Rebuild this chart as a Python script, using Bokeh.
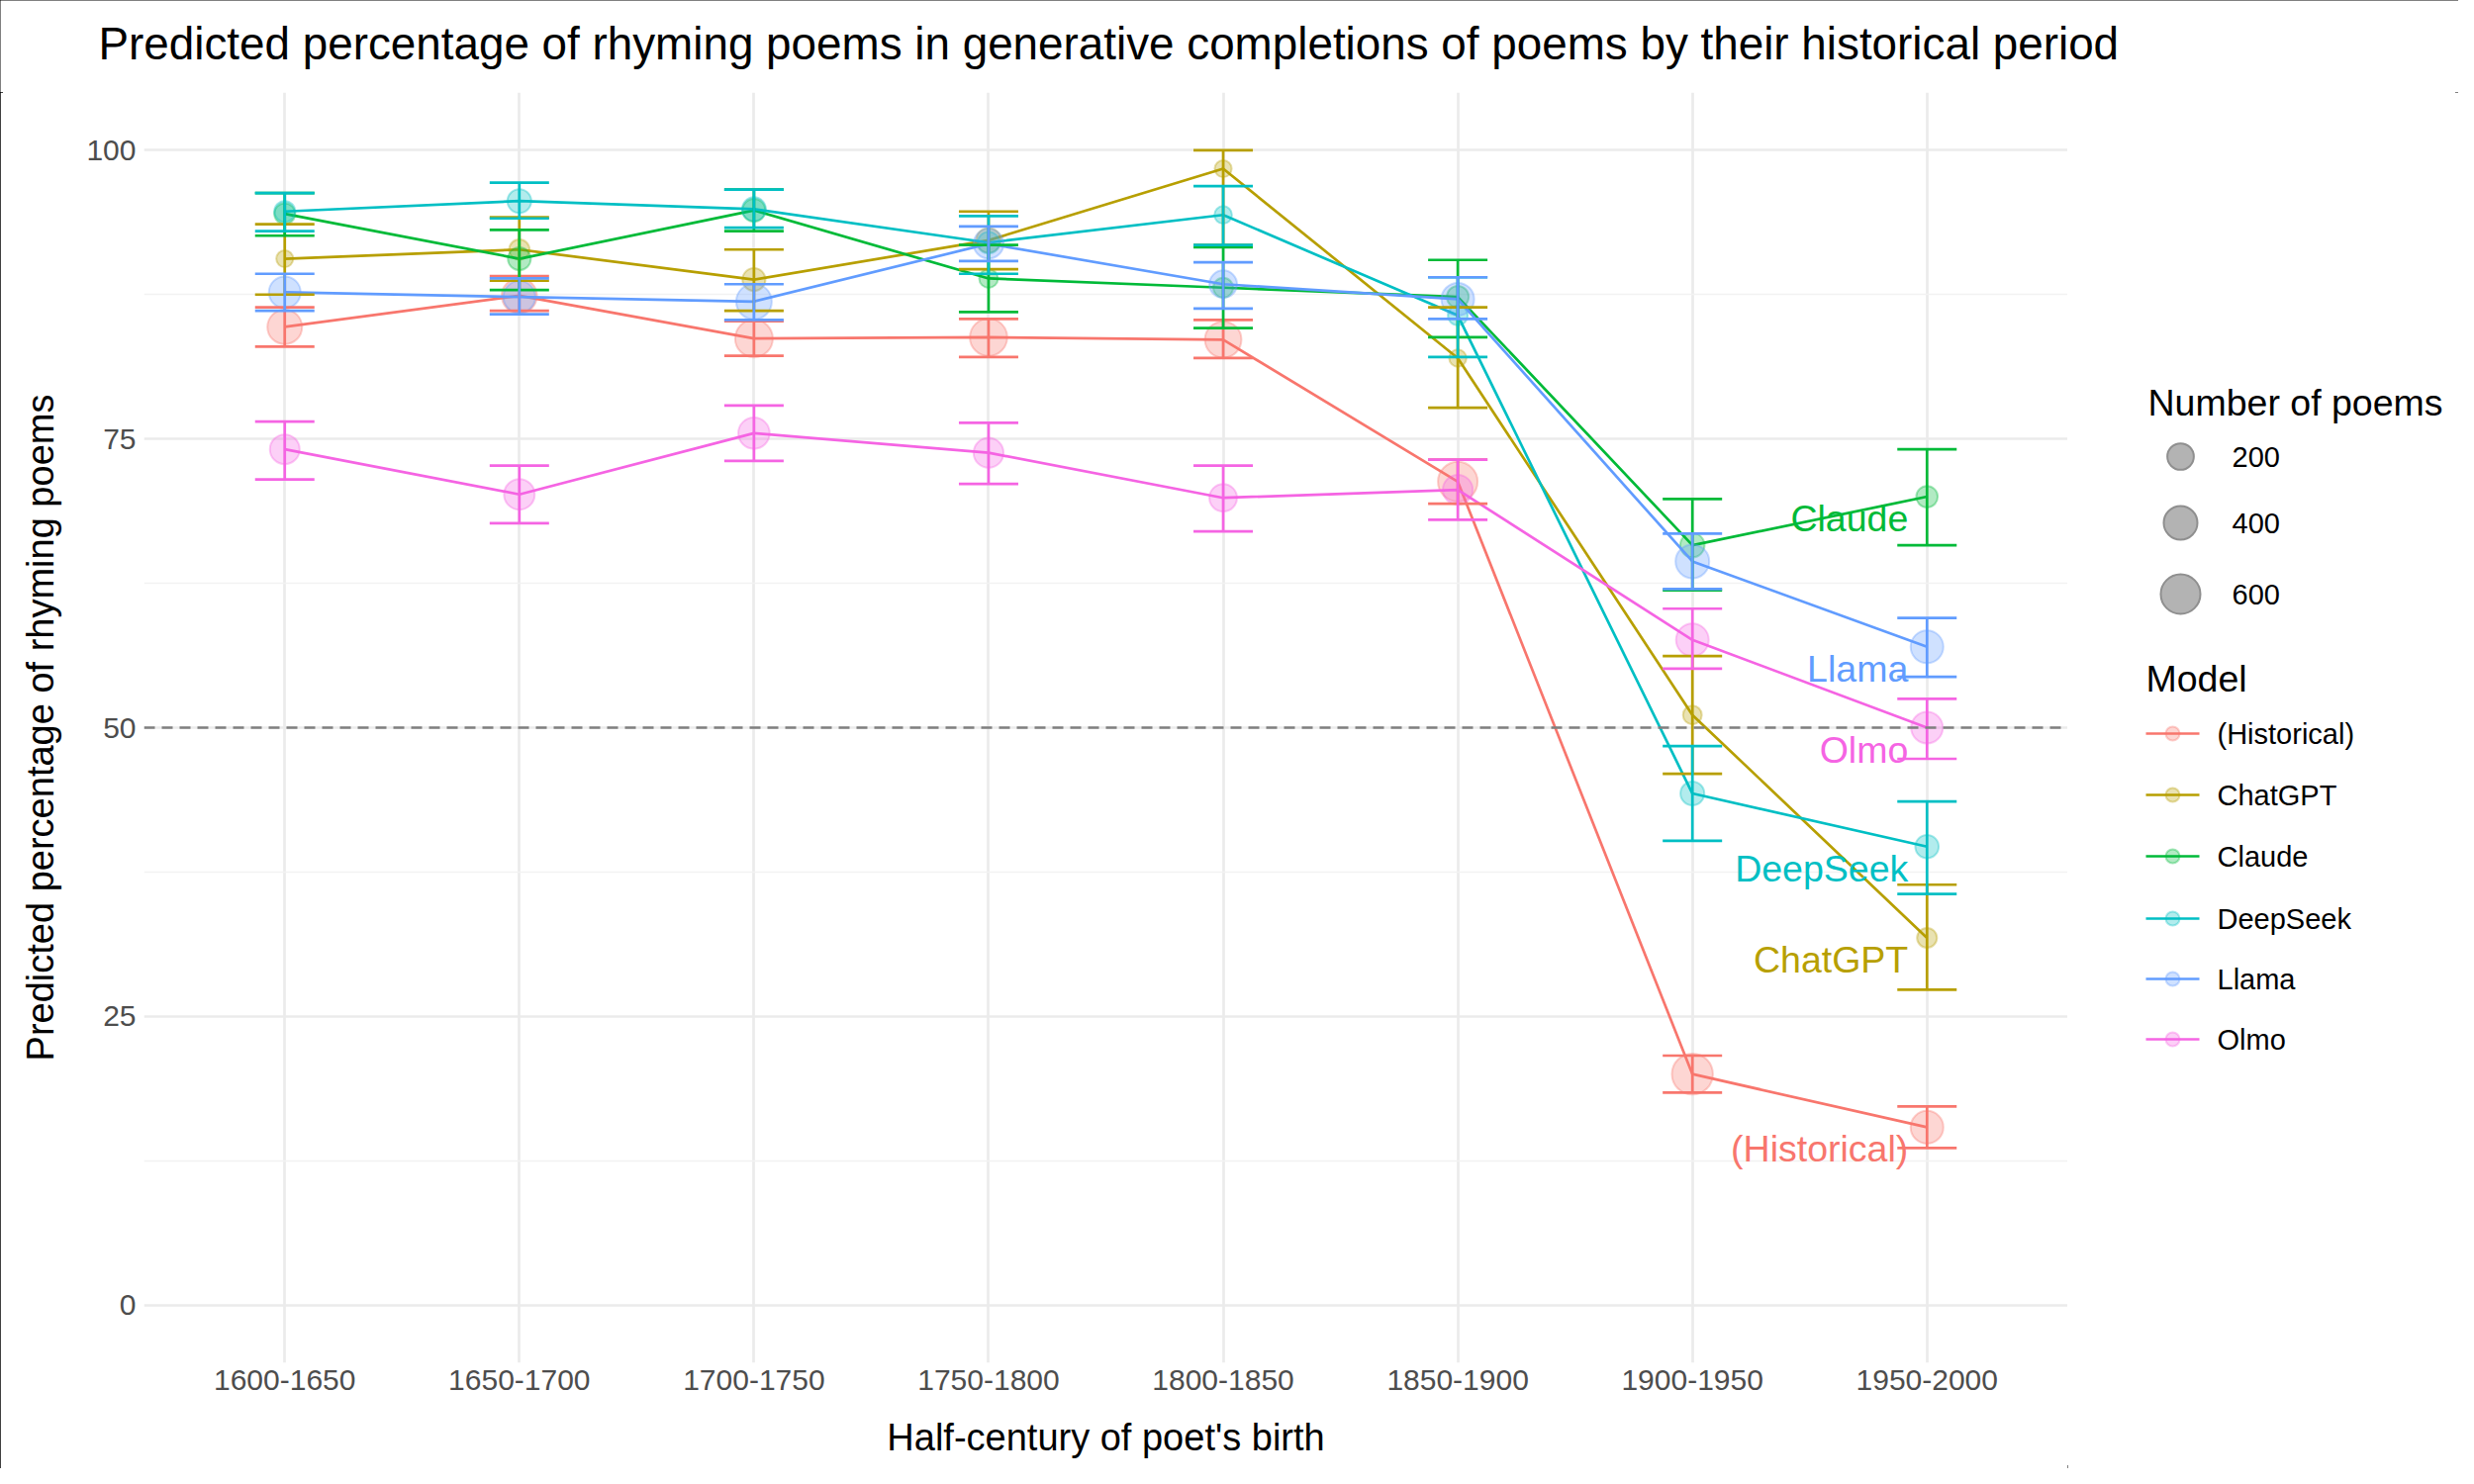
import math
from bokeh.plotting import figure
from bokeh.layouts import row, column
from bokeh.models import (FactorRange, Range1d, FixedTicker, Whisker, TeeHead,
                          ColumnDataSource, Span)
from bokeh.core.properties import value
from bokeh.embed import file_html
from bokeh.resources import INLINE

FONT = "Liberation Sans"

periods = ["1600-1650", "1650-1700", "1700-1750", "1750-1800",
           "1800-1850", "1850-1900", "1900-1950", "1950-2000"]
models = ["(Historical)", "ChatGPT", "Claude", "DeepSeek", "Llama", "Olmo"]
colors = ["#F8766D", "#B79F00", "#00BA38", "#00BFC4", "#619CFF", "#F564E3"]

historical_pct = [84.7, 87.4, 83.7, 83.8, 83.6, 71.3, 20.0, 15.4]
historical_lo = [83.0, 86.1, 82.2, 82.1, 82.0, 69.4, 18.4, 13.6]
historical_hi = [86.4, 89.1, 85.2, 85.4, 85.3, 73.2, 21.6, 17.2]
historical_n = [430, 450, 530, 520, 490, 600, 650, 370]

chatgpt_pct = [90.6, 91.4, 88.8, 92.2, 98.4, 82.0, 51.1, 31.8]
chatgpt_lo = [87.5, 88.7, 86.1, 89.7, 91.8, 77.7, 46.0, 27.3]
chatgpt_hi = [93.6, 94.2, 91.4, 94.7, 100.0, 86.4, 56.2, 36.4]
chatgpt_n = [10, 70, 120, 160, 10, 15, 40, 60]

claude_pct = [94.5, 90.6, 94.8, 88.9, 88.1, 87.3, 65.8, 70.0]
claude_lo = [92.6, 87.9, 93.0, 86.0, 84.6, 83.8, 61.9, 65.8]
claude_hi = [96.3, 93.1, 96.6, 91.8, 91.6, 90.5, 69.8, 74.1]
claude_n = [80, 120, 120, 40, 60, 100, 150, 90]

deepseek_pct = [94.7, 95.6, 94.9, 92.0, 94.4, 85.7, 44.3, 39.7]
deepseek_lo = [93.0, 94.1, 93.3, 89.3, 91.8, 82.1, 40.2, 35.6]
deepseek_hi = [96.3, 97.2, 96.6, 94.3, 96.9, 89.0, 48.4, 43.6]
deepseek_n = [80, 140, 140, 100, 20, 60, 140, 130]

llama_pct = [87.7, 87.3, 86.9, 91.9, 88.4, 87.1, 64.4, 57.0]
llama_lo = [86.1, 85.8, 85.3, 90.4, 86.3, 85.4, 62.0, 54.4]
llama_hi = [89.3, 88.9, 88.4, 93.4, 90.3, 89.0, 66.8, 59.5]
llama_n = [340, 350, 460, 290, 230, 370, 400, 370]

olmo_pct = [74.1, 70.2, 75.5, 73.8, 69.9, 70.6, 57.6, 50.0]
olmo_lo = [71.5, 67.7, 73.1, 71.1, 67.0, 68.0, 55.1, 47.3]
olmo_hi = [76.5, 72.7, 77.9, 76.4, 72.7, 73.2, 60.3, 52.5]
olmo_n = [284, 310, 330, 290, 230, 290, 370, 340]

size_breaks = [200, 400, 600]
y_ticks = [0, 25, 50, 75, 100]
y_minor = [12.5, 37.5, 62.5, 87.5]

TITLE = "Predicted percentage of rhyming poems in generative completions of poems by their historical period"
X_TITLE = "Half-century of poet's birth"
Y_TITLE = "Predicted percentage of rhyming poems"

series = [
    (historical_pct, historical_lo, historical_hi, historical_n),
    (chatgpt_pct, chatgpt_lo, chatgpt_hi, chatgpt_n),
    (claude_pct, claude_lo, claude_hi, claude_n),
    (deepseek_pct, deepseek_lo, deepseek_hi, deepseek_n),
    (llama_pct, llama_lo, llama_hi, llama_n),
    (olmo_pct, olmo_lo, olmo_hi, olmo_n),
]


def diam(n):
    # area-proportional size scale (px diameter)
    return math.sqrt(270 + 2.218 * n)


# ---- layout (pixels) ----
TOTAL_W, TOTAL_H = 2484, 1484
FL, FT, FW, FH = 145, 93, 1944, 1284
MAIN_W = FL + FW
LEG_W = TOTAL_W - MAIN_W
BODY_H = TOTAL_H - FT

# ---- title strip ----
tf = figure(width=TOTAL_W, height=FT, frame_width=TOTAL_W, frame_height=FT,
            x_range=Range1d(0, TOTAL_W), y_range=Range1d(FT, 0), min_border=0,
            x_axis_location=None, y_axis_location=None,
            output_backend="svg", toolbar_location=None)
tf.outline_line_color = None
tf.grid.visible = False
tf.text(x=[99], y=[43.5], text=[TITLE], text_align="left", text_baseline="middle",
        text_color="black", text_font=value(FONT), text_font_size="45.8px")

# ---- main plot ----
p = figure(
    x_range=FactorRange(factors=periods, range_padding=0.1, range_padding_units="absolute"),
    y_range=Range1d(-5, 105),
    frame_width=FW, frame_height=FH,
    min_border_left=FL, min_border_right=0, min_border_top=0,
    min_border_bottom=BODY_H - FH,
    output_backend="svg", toolbar_location=None,
)
p.outline_line_color = None
p.background_fill_color = "white"

ticker = FixedTicker(ticks=y_ticks, minor_ticks=y_minor)
p.yaxis.ticker = ticker
p.ygrid.ticker = ticker
for ax in (p.xaxis, p.yaxis):
    ax.axis_line_color = None
    ax.major_tick_line_color = None
    ax.minor_tick_line_color = None
    ax.major_tick_out = 0
    ax.minor_tick_out = 0
    ax.major_label_text_font = FONT
    ax.major_label_text_font_size = "30px"
    ax.major_label_text_color = "#4D4D4D"
    ax.axis_label_text_font = FONT
    ax.axis_label_text_font_size = "38px"
    ax.axis_label_text_font_style = "normal"
    ax.axis_label_text_color = "black"
p.xaxis.axis_label = X_TITLE
p.yaxis.axis_label = Y_TITLE
p.xaxis.major_label_standoff = 7
p.xaxis.axis_label_standoff = 24
p.yaxis.major_label_standoff = 8
p.yaxis.axis_label_standoff = 22

p.xgrid.grid_line_color = "#EBEBEB"
p.xgrid.grid_line_width = 2.7
p.ygrid.grid_line_color = "#EBEBEB"
p.ygrid.grid_line_width = 2.7
p.ygrid.minor_grid_line_color = "#F2F2F2"
p.ygrid.minor_grid_line_width = 1.4

p.add_layout(Span(location=50, dimension="width", line_color="#7F7F7F",
                  line_dash="11 7", line_width=2.5))

for name, col, (pct, lo, hi, n) in zip(models, colors, series):
    src = ColumnDataSource(dict(x=periods, y=pct, lo=lo, hi=hi,
                                size=[diam(v) for v in n]))
    w = Whisker(base="x", upper="hi", lower="lo", source=src, dimension="height",
                line_color=col, line_width=2.7, level="glyph",
                upper_head=TeeHead(size=60, line_color=col, line_width=2.7),
                lower_head=TeeHead(size=60, line_color=col, line_width=2.7))
    p.add_layout(w)
    p.line(x="x", y="y", source=src, line_color=col, line_width=2.7)
    p.scatter(x="x", y="y", size="size", source=src, fill_color=col, fill_alpha=0.3,
              line_color=col, line_alpha=0.35, line_width=2)
    p.text(x=[periods[-1]], y=[pct[-1]], text=[name], x_offset=-19, y_offset=22,
           text_align="right", text_baseline="middle", text_color=col,
           text_font=value(FONT), text_font_size="37.5px")

# ---- legend panel (y measured from the top of the whole picture) ----
lf = figure(width=LEG_W, height=BODY_H, frame_width=LEG_W, frame_height=BODY_H,
            x_range=Range1d(0, LEG_W), y_range=Range1d(TOTAL_H, FT), min_border=0,
            x_axis_location=None, y_axis_location=None,
            output_backend="svg", toolbar_location=None)
lf.outline_line_color = None
lf.grid.visible = False

# size legend
SIZE_TITLE_X, SIZE_TITLE_Y = 81, 406.5
SIZE_KEY_X, SIZE_LABEL_X = 114, 166
size_rows = [461, 528, 600]
lf.text(x=[SIZE_TITLE_X], y=[SIZE_TITLE_Y], text=["Number of poems"], text_align="left",
        text_baseline="middle", text_color="black", text_font=value(FONT),
        text_font_size="37.5px")
lf.scatter(x=[SIZE_KEY_X] * len(size_breaks), y=size_rows,
           size=[diam(b) for b in size_breaks], fill_color="#B3B3B3",
           line_color="#8F8F8F", line_width=2)
lf.text(x=[SIZE_LABEL_X] * len(size_breaks), y=size_rows, text=[str(b) for b in size_breaks],
        text_align="left", text_baseline="middle", text_color="black",
        text_font=value(FONT), text_font_size="29px")

# model legend
MODEL_TITLE_X, MODEL_TITLE_Y = 79, 685
KEY_X0, KEY_X1, LABEL_X = 79, 133, 151
model_rows = [741, 803, 865, 928, 989, 1050]
lf.text(x=[MODEL_TITLE_X], y=[MODEL_TITLE_Y], text=["Model"], text_align="left",
        text_baseline="middle", text_color="black", text_font=value(FONT),
        text_font_size="37.5px")
lf.segment(x0=[KEY_X0] * len(models), x1=[KEY_X1] * len(models), y0=model_rows, y1=model_rows,
           line_color=colors, line_width=2.7)
lf.scatter(x=[(KEY_X0 + KEY_X1) / 2] * len(models), y=model_rows, size=14,
           fill_color=colors, fill_alpha=0.3, line_color=colors, line_alpha=0.35, line_width=2)
lf.text(x=[LABEL_X] * len(models), y=model_rows, text=models, text_align="left",
        text_baseline="middle", text_color="black", text_font=value(FONT),
        text_font_size="29px")

layout = column(tf, row(p, lf, spacing=0), spacing=0)
layout.styles = {"outline": "3px solid #000", "outline-offset": "-3px"}

open("out.html", "w").write(file_html(layout, INLINE))
